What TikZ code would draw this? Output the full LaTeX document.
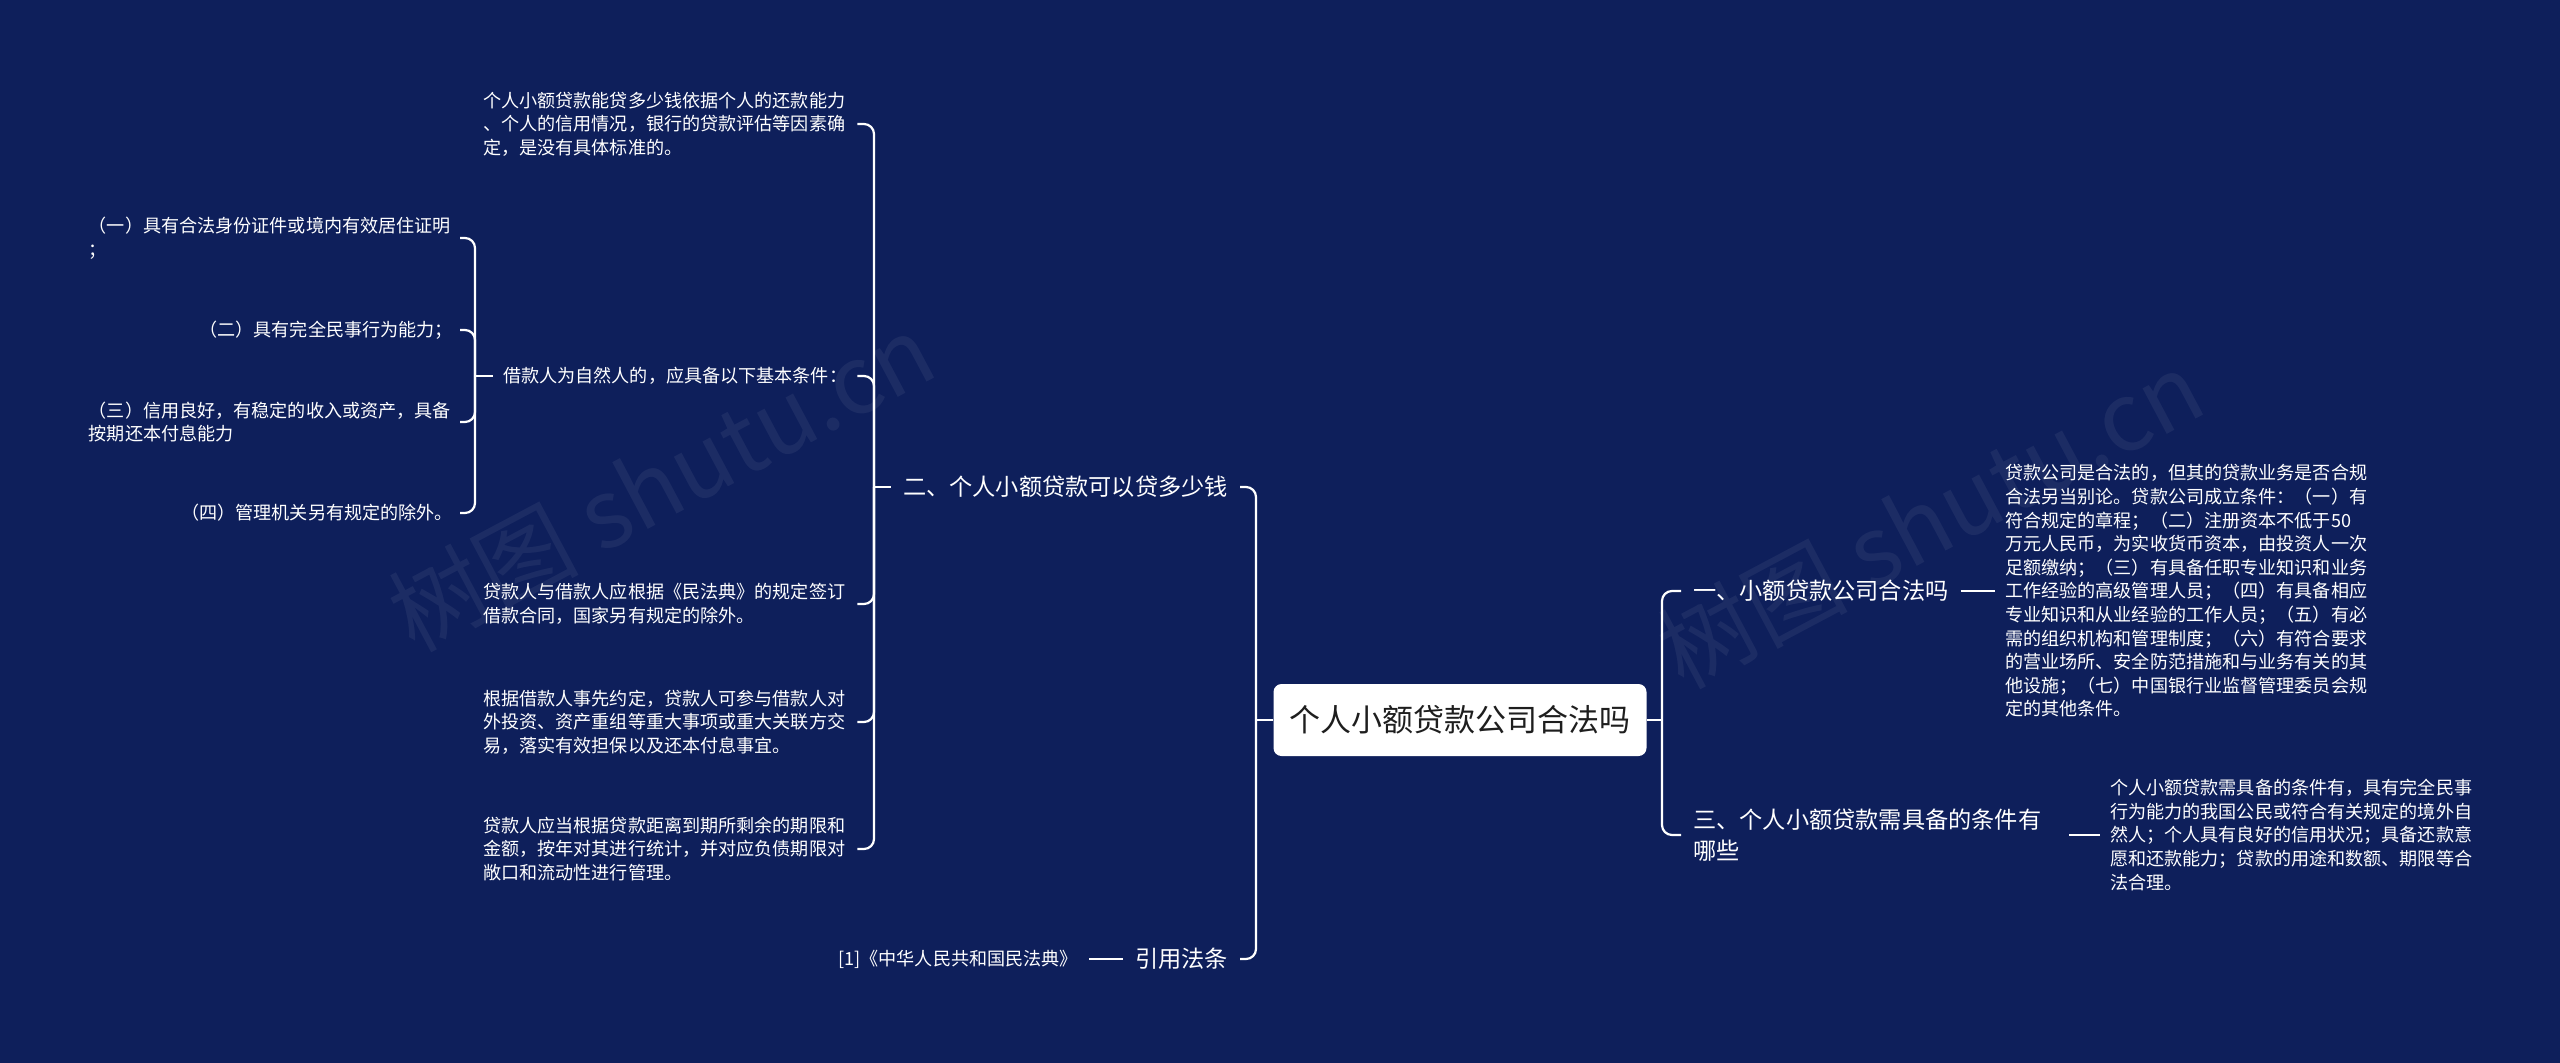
\documentclass[tikz,border=0pt]{standalone}
\usepackage{fontspec}
\setmainfont{Noto Sans CJK SC}
\definecolor{bg}{HTML}{0E1F5B}
\definecolor{roottext}{HTML}{1E1E1E}
\begin{document}
\begin{tikzpicture}[x=1pt,y=-1pt,
  conn/.style={draw=white,line width=2.2pt,rounded corners=10pt},
  lbl/.style={text=white,inner xsep=12pt,inner ysep=0pt,font=\fontsize{23.2}{31}\selectfont,align=left},
  small/.style={text=white,inner xsep=10pt,inner ysep=0pt,font=\fontsize{18.1}{23.6}\selectfont,align=left},
  wmark/.style={text=white,opacity=0.06,font=\fontsize{95}{95}\selectfont,rotate=28}
]
\fill[bg] (0,0) rectangle (2560,1063);
\useasboundingbox (0,0) rectangle (2560,1063);

% watermarks
\node[wmark] (wm1) at (661,482) {树图 shutu.cn};
\node[wmark] (wm2) at (1930,519) {树图 shutu.cn};

% root
\node[fill=white,rounded corners=8pt,minimum width=373pt,minimum height=72pt,
      text=roottext,font=\fontsize{31}{31}\selectfont,inner sep=0pt] (root) at (1460,720) {个人小额贷款公司合法吗};

% ---------- left main branches ----------
\node[lbl,anchor=east] (n2) at (1240,487) {二、个人小额贷款可以贷多少钱};
\node[lbl,anchor=east] (nref) at (1240,959) {引用法条};
\node[small,anchor=east,inner xsep=11pt] (nlaw) at (1089,959) {[1]《中华人民共和国民法典》};

\coordinate (jl) at (1256,720);
\draw[conn] (root.west) -- (jl);
\draw[conn] (jl) |- (n2.east);
\draw[conn] (jl) |- (nref.east);
\draw[conn] (nref.west) -- (nlaw.east);

% children of 二
\node[small,anchor=west,text width=364pt] (c1) at (473,124) {个人小额贷款能贷多少钱依据个人的还款能力\\、个人的信用情况，银行的贷款评估等因素确\\定，是没有具体标准的。};
\node[small,anchor=west,text width=344pt] (c2) at (493,376) {借款人为自然人的，应具备以下基本条件：};
\node[small,anchor=west,text width=364pt] (c3) at (473,604) {贷款人与借款人应根据《民法典》的规定签订\\借款合同，国家另有规定的除外。};
\node[small,anchor=west,text width=364pt] (c4) at (473,722) {根据借款人事先约定，贷款人可参与借款人对\\外投资、资产重组等重大事项或重大关联方交\\易，落实有效担保以及还本付息事宜。};
\node[small,anchor=west,text width=364pt] (c5) at (473,849) {贷款人应当根据贷款距离到期所剩余的期限和\\金额，按年对其进行统计，并对应负债期限对\\敞口和流动性进行管理。};

\coordinate (j2) at (874,487);
\draw[conn] (n2.west) -- (j2);
\draw[conn] (j2) |- (c1.east);
\draw[conn] (j2) |- (c2.east);
\draw[conn] (j2) |- (c3.east);
\draw[conn] (j2) |- (c4.east);
\draw[conn] (j2) |- (c5.east);

% children of 借款人为自然人的
\node[small,anchor=east,inner xsep=7pt,text width=364pt] (s1) at (460,238) {（一）具有合法身份证件或境内有效居住证明\\；};
\node[small,anchor=east,inner xsep=7pt] (s2) at (460,330) {（二）具有完全民事行为能力；};
\node[small,anchor=east,inner xsep=7pt,text width=364pt] (s3) at (460,422) {（三）信用良好，有稳定的收入或资产，具备\\按期还本付息能力};
\node[small,anchor=east,inner xsep=7pt] (s4) at (460,513) {（四）管理机关另有规定的除外。};

\coordinate (j3) at (475,376);
\draw[conn] (c2.west) -- (j3);
\draw[conn] (j3) |- (s1.east);
\draw[conn] (j3) |- (s2.east);
\draw[conn] (j3) |- (s3.east);
\draw[conn] (j3) |- (s4.east);

% ---------- right branches ----------
\coordinate (jr) at (1662,720);
\draw[conn] (root.east) -- (jr);
\node[lbl,anchor=west] (r1) at (1681,591) {一、小额贷款公司合法吗};
\node[lbl,anchor=west,text width=364pt] (r3) at (1681,835) {三、个人小额贷款需具备的条件有\\哪些};
\draw[conn] (jr) |- (r1.west);
\draw[conn] (jr) |- (r3.west);

\node[small,anchor=west] (b1) at (1995,591) {贷款公司是合法的，但其的贷款业务是否合规\\合法另当别论。贷款公司成立条件：（一）有\\符合规定的章程；（二）注册资本不低于50\\万元人民币，为实收货币资本，由投资人一次\\足额缴纳；（三）有具备任职专业知识和业务\\工作经验的高级管理人员；（四）有具备相应\\专业知识和从业经验的工作人员；（五）有必\\需的组织机构和管理制度；（六）有符合要求\\的营业场所、安全防范措施和与业务有关的其\\他设施；（七）中国银行业监督管理委员会规\\定的其他条件。};
\draw[conn] (r1.east) -- (b1.west);

\node[small,anchor=west] (b3) at (2100,835) {个人小额贷款需具备的条件有，具有完全民事\\行为能力的我国公民或符合有关规定的境外自\\然人；个人具有良好的信用状况；具备还款意\\愿和还款能力；贷款的用途和数额、期限等合\\法合理。};
\draw[conn] (r3.east) -- (b3.west);
\end{tikzpicture}
\end{document}
